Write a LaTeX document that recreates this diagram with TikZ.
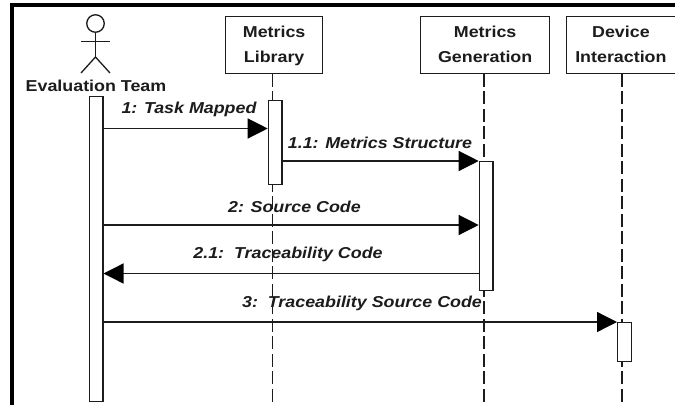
\documentclass[tikz,border=0pt]{standalone}
\usepackage{fontspec}
\setmainfont[FakeStretch=1.13]{Liberation Sans}
\usetikzlibrary{arrows.meta}
\definecolor{ink}{HTML}{1c1c1c}
\newcommand{\twolines}[2]{\raisebox{2.5pt}{\begin{tabular}{@{}c@{}}#1\\#2\end{tabular}}}
\tikzset{
  x=1pt,y=-1pt,
  obj/.style={draw=ink,line width=1.3pt,fill=white,inner sep=0pt,anchor=north west,font=\fontsize{15.8}{25}\selectfont\bfseries,text=ink},
  bar/.style={draw=ink,line width=1.3pt,fill=white,inner sep=0pt,anchor=north west,minimum width=13.5pt},
  life/.style={draw=ink,line width=1.2pt,dash pattern=on 13pt off 4.5pt},
  msg/.style={draw=ink,line width=1.3pt,-{Triangle[length=20pt,width=20pt,color=black]},shorten >=0pt},
  lab/.style={font=\fontsize{15.8}{18}\selectfont\bfseries\itshape,text=ink,inner sep=0pt},
  stick/.style={draw=ink,line width=1.3pt}
}
\begin{document}
\begin{tikzpicture}
\useasboundingbox (0,0) rectangle (675,405);
\fill[white] (0,0) rectangle (675,405);
% page frame
\fill[black] (10,3.3) rectangle (675,7);
\fill[black] (10,3.3) rectangle (14,405);
% heads
\node[obj,minimum width=97pt,minimum height=57pt] (lib) at (225,15.5) {\twolines{Metrics}{Library}};
\node[obj,minimum width=129pt,minimum height=57pt] (gen) at (420,15.5) {\twolines{Metrics}{Generation}};
\node[obj,minimum width=108.5pt,minimum height=57pt] (dev) at (566,15.5) {\twolines{Device}{Interaction}};
% lifelines
\coordinate (libend) at (272.5,405);
\coordinate (genend) at (484,405);
\coordinate (devend) at (622,405);
\draw[life] (lib.south -| libend) -- (libend);
\draw[life] (gen.south -| genend) -- (genend);
\draw[life] (dev.south -| devend) -- (devend);
% actor
\node[draw=ink,line width=1.3pt,circle,fill=white,minimum size=17.5pt,inner sep=0pt] (head) at (95.5,23.5) {};
\coordinate (hip) at (95.5,57);
\coordinate (armL) at (81,41.5);
\coordinate (armR) at (110,41.5);
\coordinate (legL) at (81,73);
\coordinate (legR) at (110,73);
\draw[stick] (head.south) -- (hip);
\draw[stick] (armL) -- (armR);
\draw[stick] (legL) -- (hip) -- (legR);
\node[font=\fontsize{15.8}{18}\selectfont\bfseries,text=ink,inner sep=0pt] (actor) at (96,85.5) {Evaluation Team};
% activations
\node[bar,minimum height=305pt] (aE) at (88.7,96) {};
\node[bar,minimum height=84pt] (aL) at (267.7,99.5) {};
\node[bar,minimum height=129pt] (aG) at (478.7,161) {};
\node[bar,minimum height=39pt] (aD) at (617,322) {};
% messages
\coordinate (m1a) at (aE.east |- 0,128.5);
\coordinate (m1b) at (aL.west |- 0,128.5);
\coordinate (m2a) at (aL.east |- 0,161);
\coordinate (m2b) at (aG.west |- 0,161);
\coordinate (m3a) at (aE.east |- 0,225);
\coordinate (m3b) at (aG.west |- 0,225);
\coordinate (m4a) at (aG.west |- 0,273.5);
\coordinate (m4b) at (aE.east |- 0,273.5);
\coordinate (m5a) at (aE.east |- 0,322);
\coordinate (m5b) at (aD.west |- 0,322);
\draw[msg] (m1a) -- (m1b);
\draw[msg] (m2a) -- (m2b);
\draw[msg] (m3a) -- (m3b);
\draw[msg] (m4a) -- (m4b);
\draw[msg] (m5a) -- (m5b);
% labels
\node[lab] (t1) at (189,109.5) {1: Task Mapped};
\node[lab] (t2) at (380,143) {1.1: Metrics Structure};
\node[lab] (t3) at (294.5,206.5) {2: Source Code};
\node[lab] (t4) at (288,254.5) {2.1:\ \ Traceability Code};
\node[lab] (t5) at (362,303.5) {3:\ \ Traceability Source Code};
\end{tikzpicture}
\end{document}
